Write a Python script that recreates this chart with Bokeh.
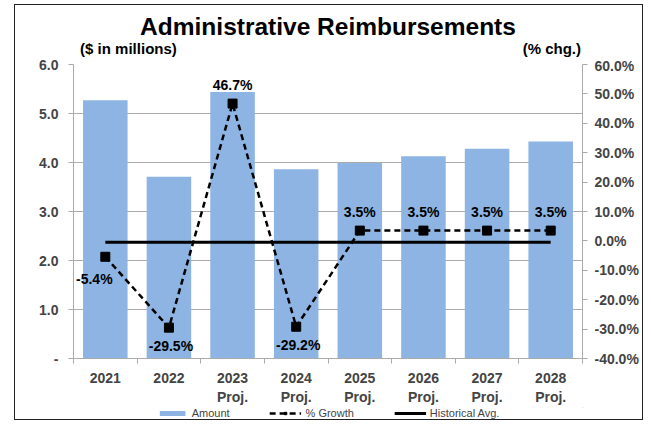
from bokeh.plotting import figure
from bokeh.layouts import column
from bokeh.models import (Range1d, LinearAxis, FixedTicker, NumeralTickFormatter,
                          PrintfTickFormatter, ColumnDataSource, LabelSet, Label,
                          Legend, LegendItem)
from bokeh.core.properties import value
from bokeh.embed import file_html
from bokeh.resources import INLINE
import numpy as np

# ---- data ----
years = ["2021", "2022", "2023\nProj.", "2024\nProj.", "2025\nProj.",
         "2026\nProj.", "2027\nProj.", "2028\nProj."]
amount = [5.27, 3.71, 5.44, 3.86, 3.99, 4.13, 4.28, 4.43]
growth = [-0.054, -0.295, 0.467, -0.292, 0.035, 0.035, 0.035, 0.035]
growth_labels = ["-5.4%", "-29.5%", "46.7%", "-29.2%", "3.5%", "3.5%", "3.5%", "3.5%"]
hist_avg = -0.005
left_ticks = [0, 1, 2, 3, 4, 5, 6]
right_ticks = [-0.4, -0.3, -0.2, -0.1, 0.0, 0.1, 0.2, 0.3, 0.4, 0.5, 0.6]

FONT = "Liberation Sans"
GRAY = "#ABABAB"
BAR = "#8DB4E2"
n = len(years)
xc = np.arange(n) + 0.5
W = 627


def bare(fig):
    fig.outline_line_color = None
    fig.xaxis.visible = False
    fig.yaxis.visible = False
    fig.xgrid.visible = False
    fig.ygrid.visible = False
    fig.min_border = 0
    return fig


# ---- header ----
head = bare(figure(width=W, height=52, output_backend="svg", toolbar_location=None,
                   x_range=Range1d(0, 1), y_range=Range1d(0, 1)))
head.add_layout(Label(x=0.5, y=0.6, text="Administrative Reimbursements",
                      text_align="center", text_baseline="middle",
                      text_font=FONT, text_font_style="bold",
                      text_font_size="24.5px", text_color="black"))
head.add_layout(Label(x=0.013, y=0.17, text="($ in millions)",
                      text_align="left", text_baseline="middle",
                      text_font=FONT, text_font_style="bold",
                      text_font_size="15px", text_color="black"))
head.add_layout(Label(x=0.997, y=0.17, text="(% chg.)",
                      text_align="right", text_baseline="middle",
                      text_font=FONT, text_font_style="bold",
                      text_font_size="15px", text_color="black"))

# ---- main chart ----
p = figure(width=W, height=350, output_backend="svg", toolbar_location=None,
           x_range=Range1d(0, n), y_range=Range1d(0, 6),
           min_border_left=58, min_border_right=60, min_border_top=7,
           min_border_bottom=46)
p.extra_y_ranges = {"pct": Range1d(-0.4, 0.6)}
p.outline_line_color = None

p.vbar(x=xc, top=amount, width=0.7, fill_color=BAR, line_color=None)
p.line(x=[xc[0], xc[-1]], y=[hist_avg, hist_avg], y_range_name="pct",
       line_color="black", line_width=3)
p.line(x=xc, y=growth, y_range_name="pct", line_color="black",
       line_width=2.5, line_dash="6 4")
p.scatter(x=xc, y=growth, y_range_name="pct", marker="square", size=9,
          fill_color="black", line_color="black")

xoff, yoff = [], []
for i, g in enumerate(growth):
    if i == 0:
        xoff.append(-11); yoff.append(-22)
    elif g < 0:
        xoff.append(2); yoff.append(-18)
    else:
        xoff.append(0); yoff.append(19)
src = ColumnDataSource(dict(x=xc, y=growth, t=growth_labels, xo=xoff, yo=yoff))
p.add_layout(LabelSet(x="x", y="y", text="t", source=src, y_range_name="pct",
                      x_offset="xo", y_offset="yo", text_align="center",
                      text_baseline="middle", text_font=value(FONT),
                      text_font_style="bold", text_font_size="14px",
                      text_color="black"))

xa = p.xaxis[0]
xa.ticker = FixedTicker(ticks=list(xc), minor_ticks=list(range(n + 1)))
xa.major_label_overrides = {float(x): y for x, y in zip(xc, years)}
xa.major_tick_line_color = None
xa.minor_tick_line_color = GRAY
xa.minor_tick_in = 0
xa.minor_tick_out = 5
xa.axis_line_color = GRAY
xa.major_label_text_font = FONT
xa.major_label_text_font_style = "bold"
xa.major_label_text_font_size = "14px"
xa.major_label_standoff = 5

ya = p.yaxis[0]
ya.ticker = FixedTicker(ticks=left_ticks)
ya.formatter = PrintfTickFormatter(format="%.1f")
ya.major_label_overrides = {0: "-"}
ya.minor_tick_line_color = None
ya.major_tick_in = 0
ya.major_tick_out = 5
ya.major_tick_line_color = GRAY
ya.axis_line_color = GRAY
ya.major_label_text_font = FONT
ya.major_label_text_font_style = "bold"
ya.major_label_text_font_size = "14px"
ya.major_label_standoff = 10

ra = LinearAxis(y_range_name="pct", ticker=FixedTicker(ticks=right_ticks),
                formatter=NumeralTickFormatter(format="0.0%"))
ra.minor_tick_line_color = None
ra.major_tick_in = 0
ra.major_tick_out = 5
ra.major_tick_line_color = GRAY
ra.axis_line_color = GRAY
ra.major_label_text_font = FONT
ra.major_label_text_font_style = "bold"
ra.major_label_text_font_size = "14px"
ra.major_label_standoff = 7
p.add_layout(ra, "right")

p.xgrid.grid_line_color = None
p.ygrid.ticker = FixedTicker(ticks=left_ticks)
p.ygrid.grid_line_color = GRAY

# ---- footer with legend (proxy renderers lie outside the footer's view) ----
foot = bare(figure(width=W, height=12, output_backend="svg", toolbar_location=None,
                   x_range=Range1d(-3, -2), y_range=Range1d(-3, -2)))
lb = foot.vbar(x=xc, top=amount, width=0.7, fill_color=BAR, line_color=None)
lg1 = foot.line(x=xc, y=growth, line_color="black", line_width=2.5, line_dash="6 4")
lg2 = foot.scatter(x=xc, y=growth, marker="square", size=8, fill_color="black",
                   line_color="black")
la = foot.line(x=[xc[0], xc[-1]], y=[hist_avg, hist_avg], line_color="black",
               line_width=3)
legend = Legend(items=[LegendItem(label="Amount", renderers=[lb]),
                       LegendItem(label="% Growth", renderers=[lg1, lg2]),
                       LegendItem(label="Historical Avg.", renderers=[la])],
                orientation="horizontal", location="center",
                label_text_font=FONT, label_text_font_size="11px",
                glyph_width=32, glyph_height=6, label_standoff=4,
                spacing=40, padding=0, margin=0,
                label_height=11, border_line_color=None,
                background_fill_alpha=0)
foot.add_layout(legend)

layout = column(head, p, foot, spacing=0, margin=(4, 0, 0, 14),
                styles={"border": "1px solid #222"})
open("out.html", "w").write(file_html(layout, INLINE))
